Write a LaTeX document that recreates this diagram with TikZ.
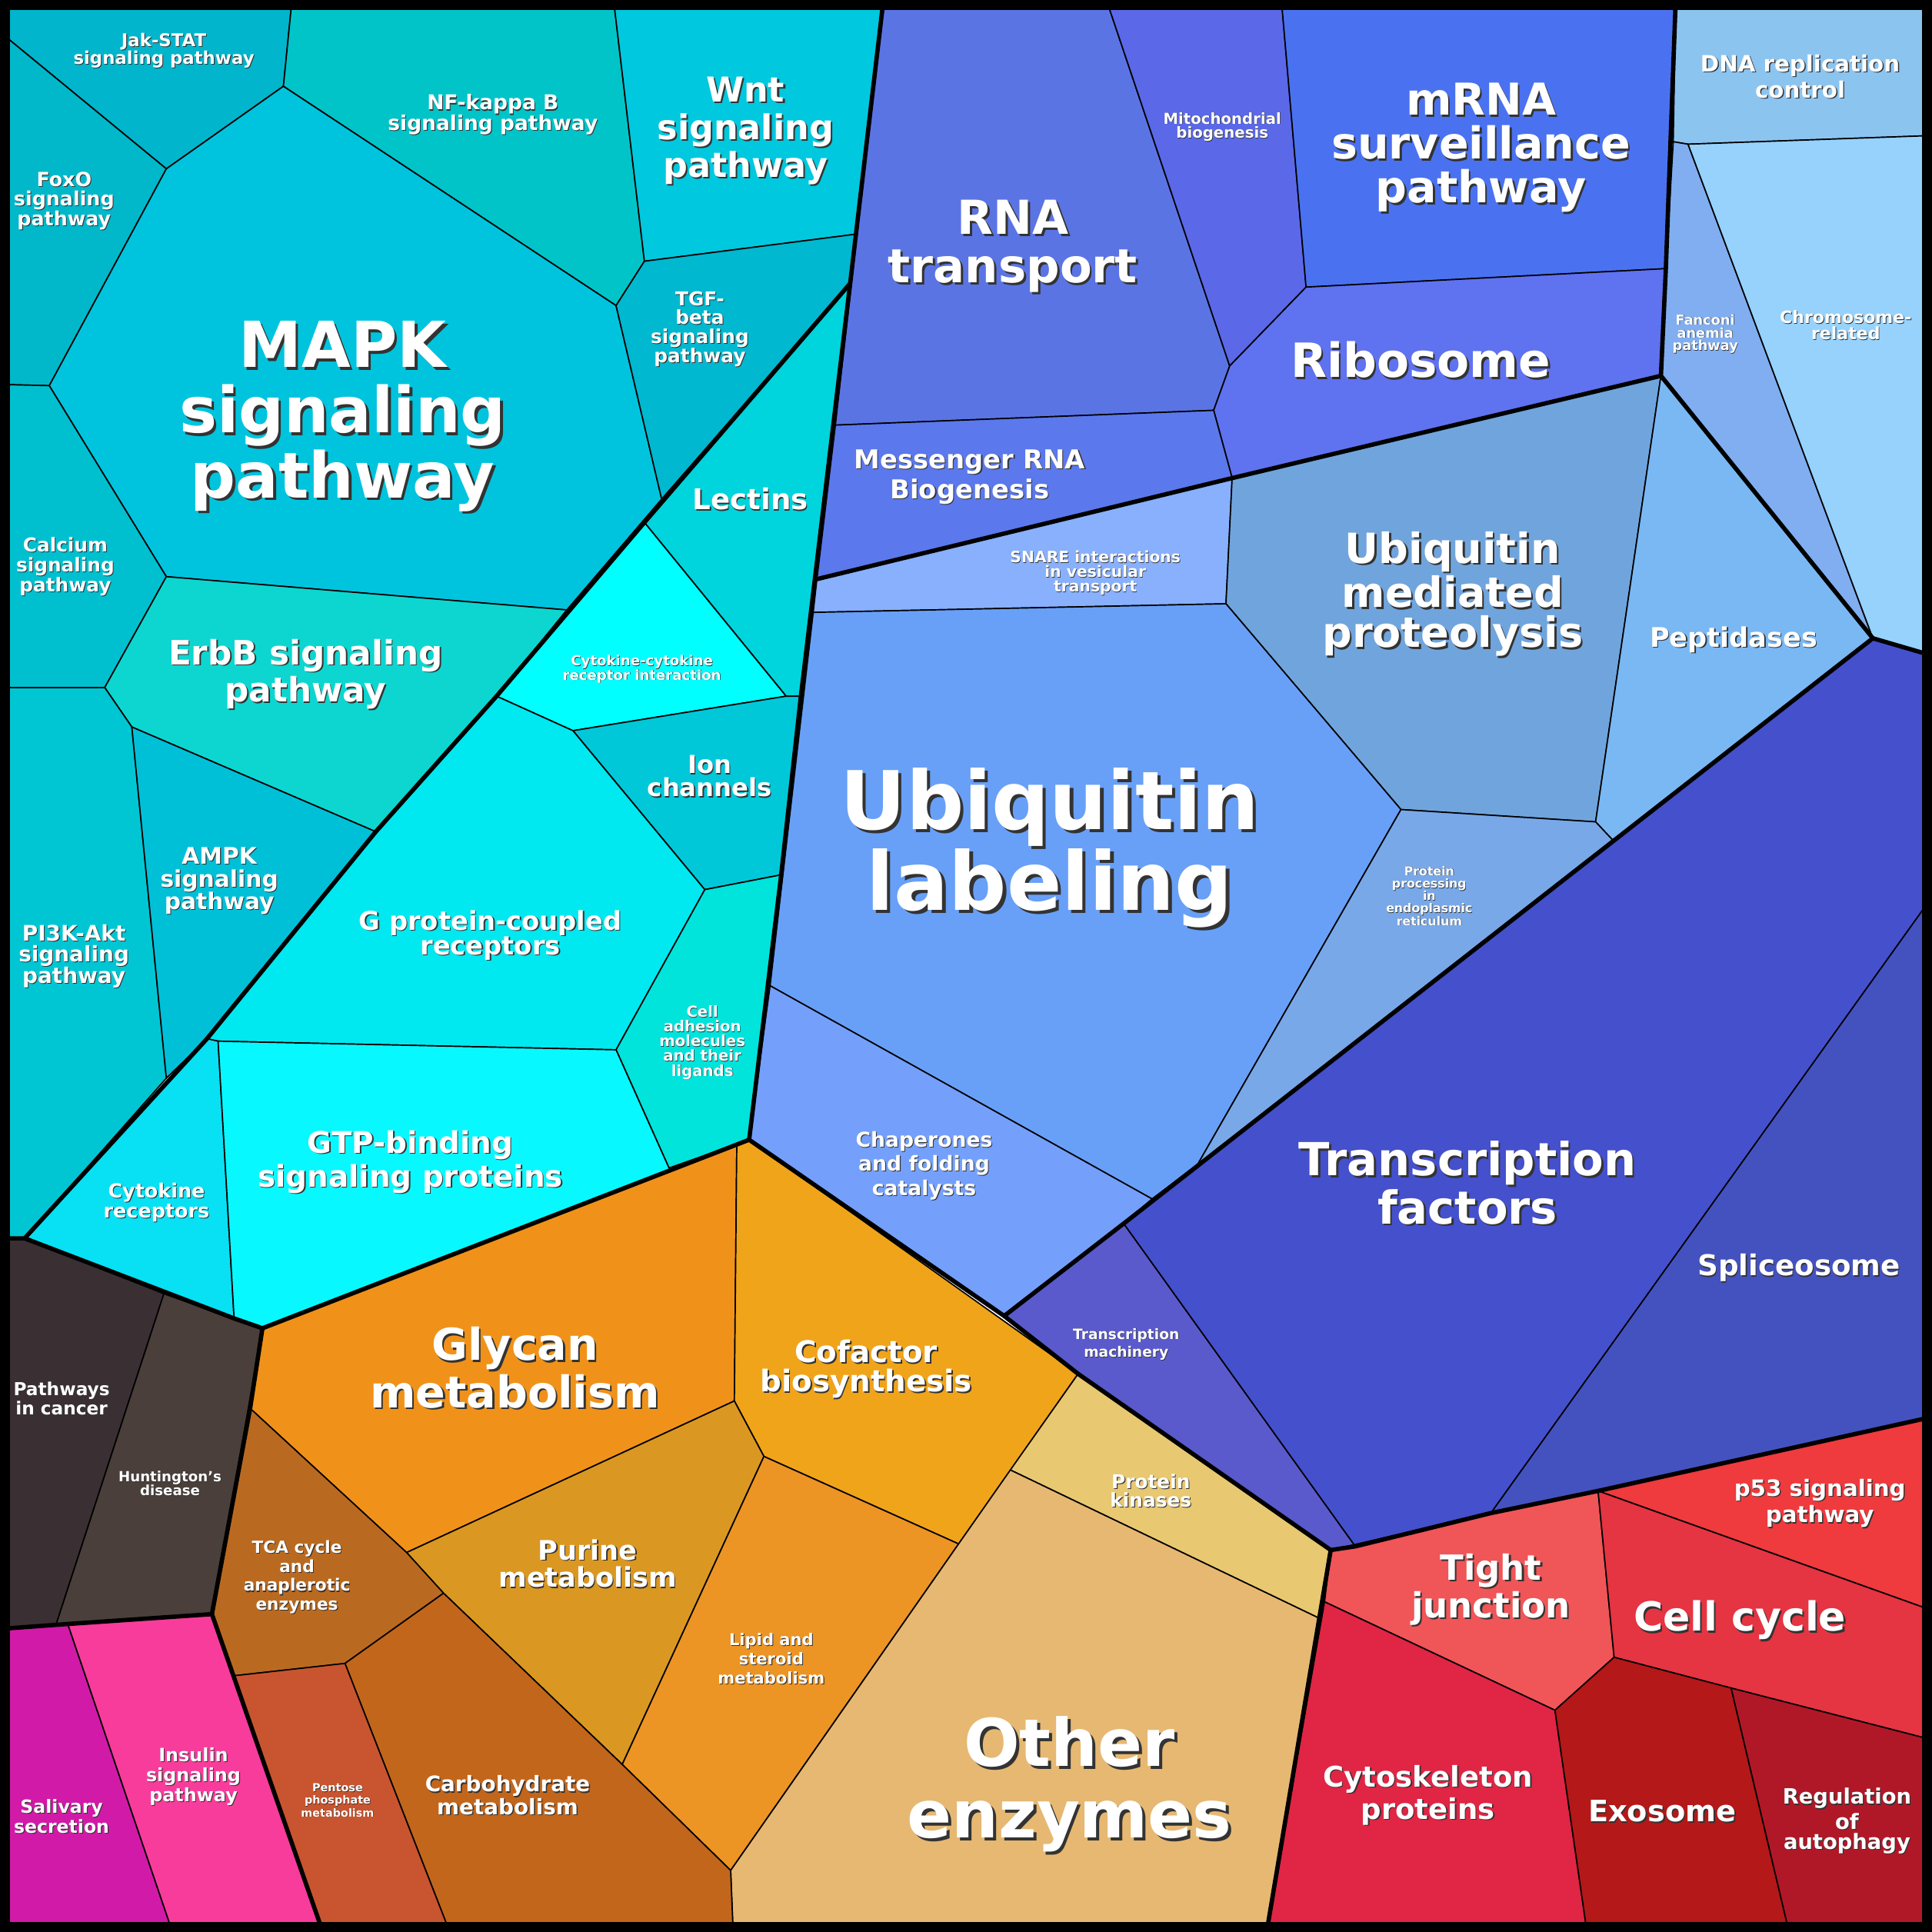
\documentclass[tikz,border=0pt]{standalone}
\usepackage{fontspec}
\setmainfont{DejaVu Sans}
\begin{document}
\begin{tikzpicture}[x=0.01cm,y=-0.01cm,
  cell/.style={draw=black,line width=0.3pt,line join=round},
  grp/.style={draw=black,line width=1pt,line join=round,line cap=round}]
\useasboundingbox (0,0) rectangle (1568,1568);
\newcommand\cl[2]{\fill[#1] #2 -- cycle; \draw[cell] #2 -- cycle;}
\newcommand\lab[6]{%
 \node[text=black!80,align=center,font=\bfseries\fontsize{\fpeval{#2*#3}}{\fpeval{#2*#4}}\selectfont] at ([shift={(\fpeval{2.2*#5},\fpeval{2.2*#5})}]#1) {#6};
 \node[text=white,align=center,font=\bfseries\fontsize{\fpeval{#2*#3}}{\fpeval{#2*#4}}\selectfont] (n#1) at (#1) {#6};}
% cyan group
\definecolor{c1}{RGB}{0,181,204}\definecolor{c2}{RGB}{0,196,200}\definecolor{c3}{RGB}{0,200,222}
\definecolor{c4}{RGB}{0,184,202}\definecolor{c5}{RGB}{0,196,222}\definecolor{c6}{RGB}{0,184,208}
\definecolor{c7}{RGB}{0,212,220}\definecolor{c8}{RGB}{0,192,208}\definecolor{c9}{RGB}{13,214,208}
\definecolor{c10}{RGB}{0,255,255}\definecolor{c11}{RGB}{0,200,216}\definecolor{c12}{RGB}{0,232,240}
\definecolor{c13}{RGB}{0,228,220}\definecolor{c14}{RGB}{0,198,212}\definecolor{c15}{RGB}{0,192,216}
\definecolor{c16}{RGB}{8,224,244}\definecolor{c17}{RGB}{8,248,255}
\cl{c1}{(0,0)--(237,0)--(230,70)--(135,137)--(0,26)}
\cl{c2}{(237,0)--(498,0)--(523,212)--(500,248)--(230,70)}
\cl{c3}{(498,0)--(717,0)--(695,190)--(523,212)}
\cl{c4}{(0,26)--(135,137)--(40,313)--(0,312)}
\cl{c5}{(135,137)--(230,70)--(500,248)--(537,405)--(460,495)--(135,468)--(40,313)}
\cl{c6}{(523,212)--(695,190)--(690,230)--(537,405)--(500,248)}
\cl{c7}{(690,230)--(650,565)--(638,565)--(523,424)}
\cl{c8}{(0,312)--(40,313)--(135,468)--(85,558)--(0,558)}
\cl{c9}{(135,468)--(460,495)--(403,565)--(305,675)--(107,590)--(85,558)}
\cl{c10}{(523,424)--(638,565)--(465,593)--(403,565)}
\cl{c11}{(638,565)--(650,565)--(634,710)--(572,722)--(465,593)}
\cl{c12}{(403,565)--(465,593)--(572,722)--(500,852)--(177,845)--(168,843)--(305,675)}
\cl{c13}{(572,722)--(634,710)--(608,925)--(543,948)--(500,852)}
\cl{c14}{(0,558)--(85,558)--(107,590)--(135,875)--(20,1005)--(0,1005)}
\cl{c15}{(107,590)--(305,675)--(168,843)--(135,875)}
\cl{c16}{(168,843)--(177,845)--(190,1070)--(20,1005)}
\cl{c17}{(177,845)--(500,852)--(543,948)--(608,925)--(213,1078)--(190,1070)}
% blue top
\definecolor{b1}{RGB}{91,116,228}\definecolor{b2}{RGB}{91,104,232}\definecolor{b3}{RGB}{74,114,240}
\definecolor{b4}{RGB}{95,114,240}\definecolor{b5}{RGB}{91,120,236}
\cl{b1}{(717,0)--(898,0)--(998,297)--(985,333)--(678,345)}
\cl{b2}{(898,0)--(1040,0)--(1060,233)--(998,297)}
\cl{b3}{(1040,0)--(1360,0)--(1352,218)--(1060,233)}
\cl{b4}{(1060,233)--(1352,218)--(1348,305)--(1000,388)--(985,333)--(998,297)}
\cl{b5}{(678,345)--(985,333)--(1000,388)--(663,470)}
\definecolor{d1}{RGB}{140,196,240}\definecolor{d2}{RGB}{128,174,240}\definecolor{d3}{RGB}{150,210,252}
\cl{d1}{(1360,0)--(1568,0)--(1568,110)--(1370,117)--(1358,115)}
\cl{d2}{(1358,115)--(1370,117)--(1520,518)--(1348,305)--(1352,218)}
\cl{d3}{(1370,117)--(1568,110)--(1568,532)--(1520,518)}
% ubiquitin
\definecolor{u1}{RGB}{136,176,252}\definecolor{u2}{RGB}{112,164,220}\definecolor{u3}{RGB}{122,184,244}
\definecolor{u4}{RGB}{104,160,248}\definecolor{u5}{RGB}{120,168,232}\definecolor{u6}{RGB}{116,160,252}
\cl{u1}{(663,470)--(1000,388)--(995,490)--(660,497)}
\cl{u2}{(1000,388)--(1348,305)--(1295,667)--(1137,657)--(995,490)}
\cl{u3}{(1348,305)--(1520,518)--(1310,683)--(1295,667)}
\cl{u4}{(660,497)--(995,490)--(1137,657)--(972,945)--(935,973)--(625,800)}
\cl{u5}{(1137,657)--(1295,667)--(1310,683)--(972,945)}
\cl{u6}{(625,800)--(935,973)--(912,993)--(815,1068)--(608,925)}
% dark blue
\definecolor{t1}{RGB}{90,90,204}\definecolor{t2}{RGB}{69,80,204}\definecolor{t3}{RGB}{68,82,192}
\cl{t1}{(815,1068)--(912,993)--(1100,1255)--(1080,1258)--(875,1115)}
\cl{t2}{(912,993)--(1520,518)--(1568,532)--(1568,728)--(1210,1228)--(1100,1255)}
\cl{t3}{(1568,728)--(1568,1150)--(1297,1210)--(1210,1228)}
% red
\definecolor{r1}{RGB}{240,85,88}\definecolor{r2}{RGB}{239,58,62}\definecolor{r3}{RGB}{229,52,66}
\definecolor{r4}{RGB}{224,37,69}\definecolor{r5}{RGB}{180,24,24}\definecolor{r6}{RGB}{176,24,40}
\cl{r1}{(1080,1258)--(1210,1228)--(1297,1210)--(1310,1345)--(1262,1388)--(1075,1300)}
\cl{r2}{(1297,1210)--(1568,1150)--(1568,1307)}
\cl{r3}{(1297,1210)--(1568,1307)--(1568,1412)--(1405,1370)--(1310,1345)}
\cl{r4}{(1075,1300)--(1262,1388)--(1288,1568)--(1028,1568)}
\cl{r5}{(1262,1388)--(1310,1345)--(1405,1370)--(1452,1568)--(1288,1568)}
\cl{r6}{(1405,1370)--(1568,1412)--(1568,1568)--(1452,1568)}
% orange
\definecolor{o1}{RGB}{240,146,26}\definecolor{o2}{RGB}{240,164,26}\definecolor{o3}{RGB}{232,200,112}
\definecolor{o4}{RGB}{218,152,34}\definecolor{o5}{RGB}{236,148,36}\definecolor{o6}{RGB}{230,184,114}
\definecolor{o7}{RGB}{186,106,32}\definecolor{o8}{RGB}{194,102,28}\definecolor{o9}{RGB}{200,85,48}
\cl{o1}{(213,1078)--(598,928)--(596,1137)--(330,1260)--(203,1143)}
\cl{o2}{(598,928)--(608,925)--(875,1115)--(778,1253)--(620,1182)--(596,1137)}
\cl{o3}{(875,1115)--(1080,1258)--(1070,1313)--(820,1193)}
\cl{o4}{(330,1260)--(596,1137)--(620,1182)--(505,1432)--(360,1293)}
\cl{o5}{(620,1182)--(778,1253)--(593,1518)--(505,1432)}
\cl{o6}{(820,1193)--(1070,1313)--(1028,1568)--(595,1568)--(593,1518)--(778,1253)}
\cl{o7}{(203,1143)--(330,1260)--(360,1293)--(280,1350)--(190,1360)--(172,1310)}
\cl{o8}{(280,1350)--(360,1293)--(505,1432)--(593,1518)--(595,1568)--(365,1568)}
\cl{o9}{(190,1360)--(280,1350)--(365,1568)--(262,1568)}
% dark + pink
\definecolor{k1}{RGB}{58,48,52}\definecolor{k2}{RGB}{74,63,58}
\definecolor{p1}{RGB}{210,26,168}\definecolor{p2}{RGB}{248,60,156}
\cl{k1}{(0,1005)--(20,1005)--(133,1050)--(45,1320)--(0,1322)}
\cl{k2}{(133,1050)--(213,1078)--(172,1310)--(45,1320)}
\cl{p1}{(0,1322)--(55,1318)--(140,1568)--(0,1568)}
\cl{p2}{(55,1318)--(172,1310)--(262,1568)--(140,1568)}
% group lines
\draw[grp] (717,0)--(690,230)--(650,565)--(634,710)--(608,925);
\draw[grp] (690,230)--(523,424)--(403,565)--(305,675)--(168,843)--(20,1005);
\draw[grp] (0,1005)--(20,1005)--(190,1070)--(213,1078)--(608,925);
\draw[grp] (213,1078)--(203,1143)--(172,1310)--(262,1568);
\draw[grp] (0,1322)--(55,1318)--(172,1310);
\draw[grp] (608,925)--(815,1068)--(875,1115)--(1080,1258)--(1028,1568);
\draw[grp] (1080,1258)--(1100,1255)--(1210,1228)--(1297,1210)--(1568,1150);
\draw[grp] (815,1068)--(912,993)--(1520,518)--(1568,532);
\draw[grp] (663,470)--(1000,388)--(1348,305)--(1520,518);
\draw[grp] (1360,0)--(1352,218)--(1348,305);
\draw[line width=2.3pt] (4,4) rectangle (1564,1564);
% labels
\lab{133,41}{0.81}{5}{5}{0.3}{Jak-STAT\\signaling pathway}
\lab{400,93}{0.94}{5}{5}{0.3}{NF-kappa B\\signaling pathway}
\lab{605,106}{0.79}{10}{11}{0.6}{Wnt\\signaling\\pathway}
\lab{52,163}{0.9}{5}{5}{0.3}{FoxO\\signaling\\pathway}
\lab{278,338}{0.86}{17}{17.5}{1}{MAPK\\signaling\\pathway}
\lab{568,267}{0.88}{5}{5}{0.3}{TGF-\\beta\\signaling\\pathway}
\lab{609,405}{0.88}{7.5}{7}{0.4}{Lectins}
\lab{53,460}{0.88}{5}{5.2}{0.3}{Calcium\\signaling\\pathway}
\lab{248,547}{0.97}{8}{7.6}{0.5}{ErbB signaling\\pathway}
\lab{521,543}{0.92}{3.5}{3.5}{0.2}{Cytokine-cytokine\\receptor interaction}
\lab{576,630}{0.88}{6.5}{6}{0.4}{Ion\\channels}
\lab{398,759}{0.88}{6.8}{6.5}{0.4}{G protein-coupled\\receptors}
\lab{570,846}{0.92}{3.8}{3.7}{0.2}{Cell\\adhesion\\molecules\\and their\\ligands}
\lab{60,776}{0.9}{5.5}{5.4}{0.3}{PI3K-Akt\\signaling\\pathway}
\lab{178,715}{0.96}{5.5}{5.4}{0.3}{AMPK\\signaling\\pathway}
\lab{127,976}{0.82}{5.5}{5.6}{0.3}{Cytokine\\receptors}
\lab{333,943}{0.92}{7.5}{7.2}{0.4}{GTP-binding\\signaling proteins}
\lab{822,200}{0.8}{13.5}{14}{0.8}{RNA\\transport}
\lab{992,103}{1}{3.5}{3.3}{0.2}{Mitochondrial\\biogenesis}
\lab{1202,120}{0.81}{12.5}{12.5}{0.7}{mRNA\\surveillance\\pathway}
\lab{1153,292}{0.87}{12.5}{12}{0.7}{Ribosome}
\lab{787,387}{0.925}{6.5}{6}{0.4}{Messenger RNA\\Biogenesis}
\lab{1461,62}{0.8}{6.5}{6.2}{0.4}{DNA replication\\control}
\lab{1384,271}{0.9}{3.5}{3.3}{0.2}{Fanconi\\anemia\\pathway}
\lab{1498,264}{0.87}{4.5}{4.2}{0.25}{Chromosome-\\related}
\lab{889,465}{0.9}{4}{3.8}{0.2}{SNARE interactions\\in vesicular\\transport}
\lab{1179,482}{0.8}{12}{11.5}{0.7}{Ubiquitin\\mediated\\proteolysis}
\lab{1407,519}{0.83}{7.5}{7}{0.4}{Peptidases}
\lab{852,688}{0.89}{21}{21}{1.2}{Ubiquitin\\labeling}
\lab{1160,727}{0.85}{3.3}{3.4}{0.2}{Protein\\processing\\in\\endoplasmic\\reticulum}
\lab{750,946}{0.86}{5.5}{5}{0.3}{Chaperones\\and folding\\catalysts}
\lab{914,1091}{0.87}{3.8}{3.6}{0.2}{Transcription\\machinery}
\lab{1191,960}{0.875}{12}{11.5}{0.7}{Transcription\\factors}
\lab{1460,1029}{0.88}{7.5}{7}{0.4}{Spliceosome}
\lab{1210,1290}{0.8}{10}{9.5}{0.6}{Tight\\junction}
\lab{1477,1220}{0.8}{6.5}{6.2}{0.4}{p53 signaling\\pathway}
\lab{1412,1315}{0.77}{12}{11}{0.7}{Cell cycle}
\lab{1159,1457}{0.876}{7.5}{7.2}{0.4}{Cytoskeleton\\proteins}
\lab{1349,1470}{0.8}{8.5}{8}{0.5}{Exosome}
\lab{1499,1478}{0.81}{6}{5.8}{0.35}{Regulation\\of\\autophagy}
\lab{418,1110}{0.81}{12.5}{12}{0.7}{Glycan\\metabolism}
\lab{703,1111}{0.81}{8.5}{8.3}{0.5}{Cofactor\\biosynthesis}
\lab{934,1210}{0.8}{5.5}{5.3}{0.3}{Protein\\kinases}
\lab{477,1269}{0.83}{7.5}{7.6}{0.4}{Purine\\metabolism}
\lab{626,1346}{0.68}{5.5}{6.5}{0.3}{Lipid and\\steroid\\metabolism}
\lab{868,1448}{0.82}{18.5}{20}{1.1}{Other\\enzymes}
\lab{241,1280}{0.7}{5.5}{6.3}{0.3}{TCA cycle\\and\\anaplerotic\\enzymes}
\lab{412,1457}{0.76}{6.5}{7}{0.4}{Carbohydrate\\metabolism}
\lab{274,1461}{0.73}{3.5}{4}{0.2}{Pentose\\phosphate\\metabolism}
\lab{50,1135}{0.75}{5.5}{6}{0.3}{Pathways\\in cancer}
\lab{138,1204}{0.85}{3.8}{3.8}{0.2}{Huntington's\\disease}
\lab{157,1442}{0.77}{5.5}{6}{0.3}{Insulin\\signaling\\pathway}
\lab{50,1474}{0.76}{5.5}{6}{0.3}{Salivary\\secretion}
\end{tikzpicture}
\end{document}
